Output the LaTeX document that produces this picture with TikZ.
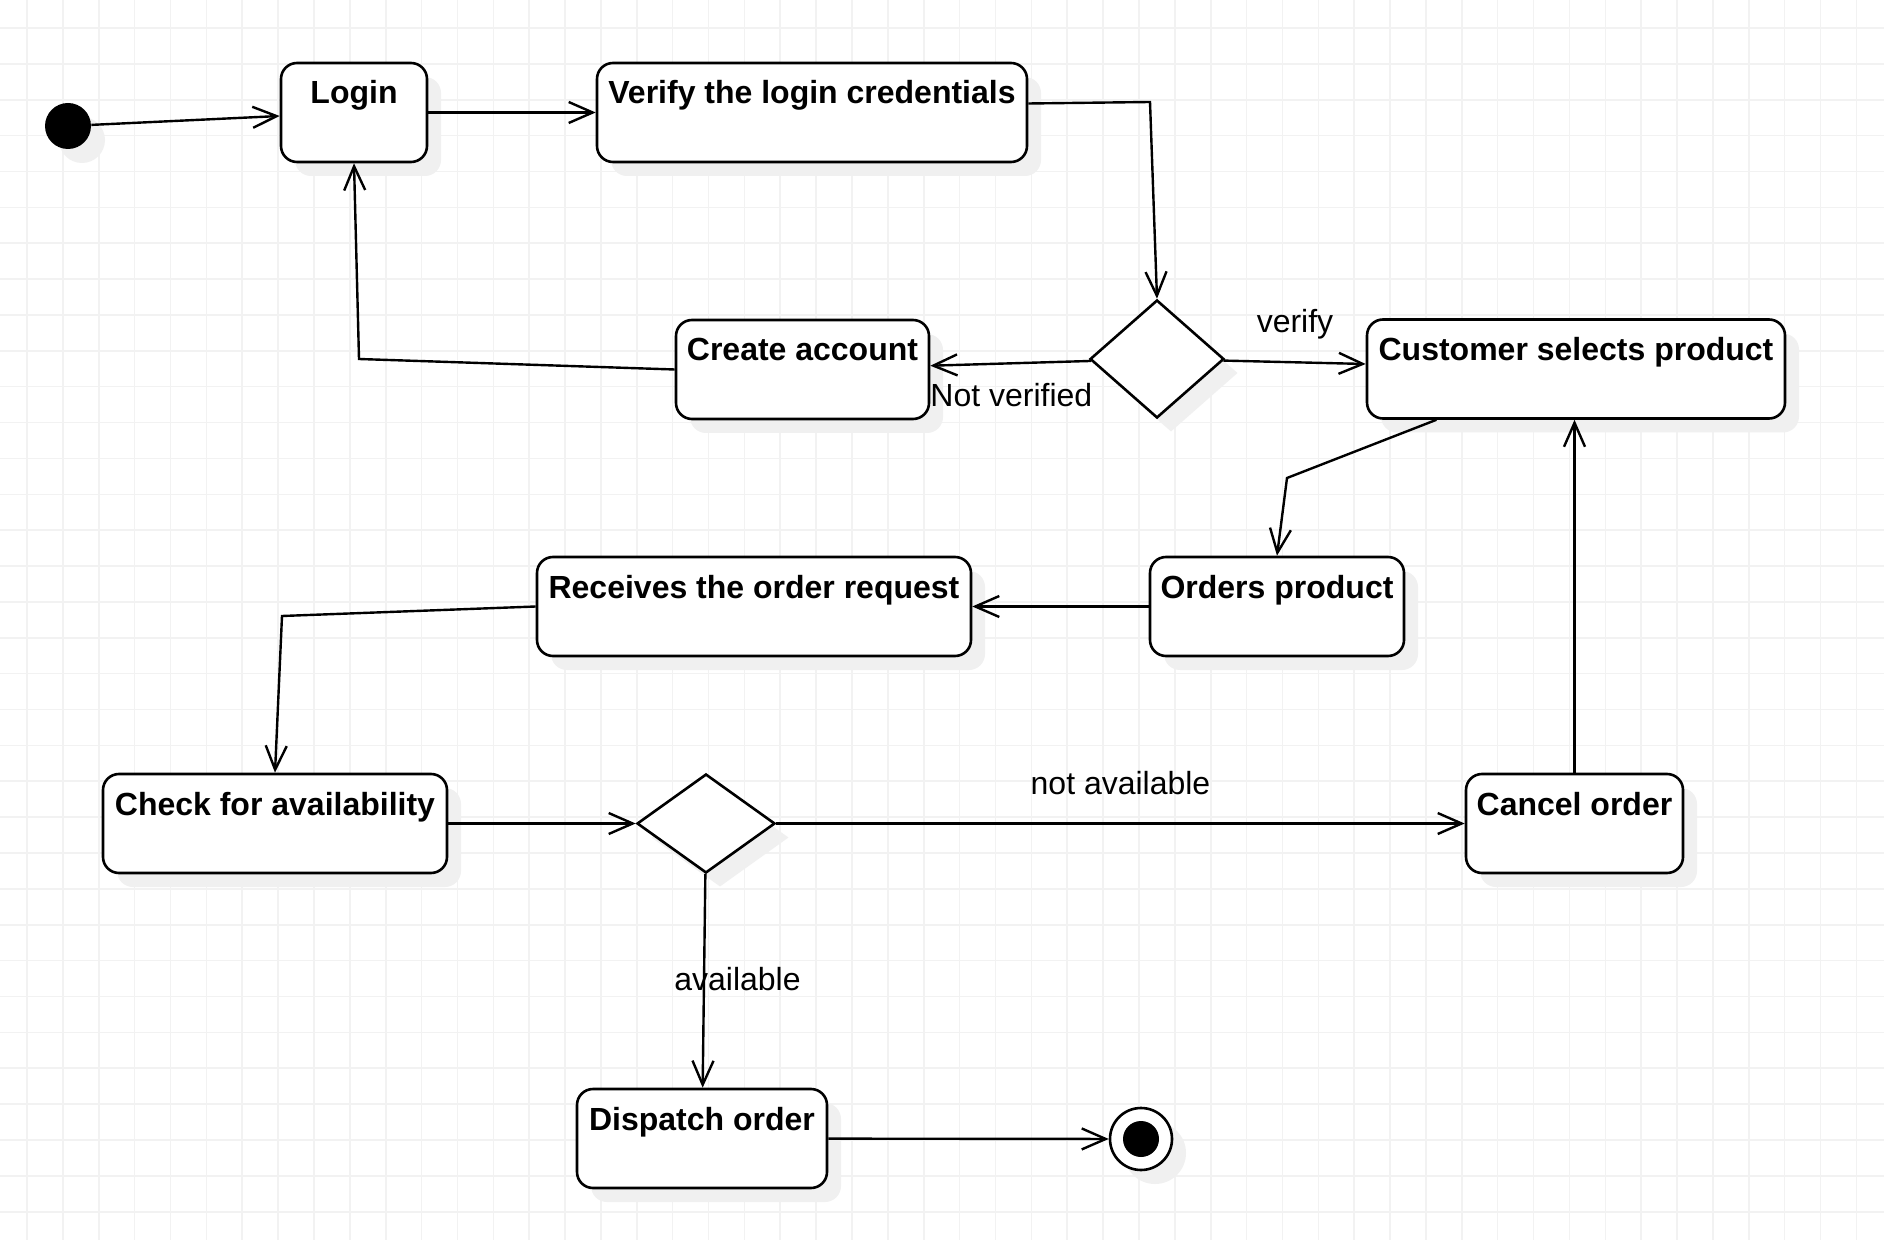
\documentclass[tikz,border=0pt]{standalone}
\usepackage{fontspec}
\setmainfont{Liberation Sans}
\usetikzlibrary{shapes.geometric,arrows.meta,shadows}

\begin{document}
\begin{tikzpicture}[x=0.5pt,y=-0.5pt,
	gridline/.style={draw=black!5,line width=0.8pt},
	dshadow/.style={drop shadow={shadow xshift=7pt,shadow yshift=-7pt,fill=black!6,opacity=1}},
	state/.style={draw,line width=1.3pt,rounded corners=8pt,fill=white,dshadow,inner sep=0pt,
		text height=20.5pt,text depth=29pt,font=\fontsize{16}{19}\selectfont\bfseries},
	choice/.style={diamond,draw,line width=1.3pt,fill=white,dshadow,inner sep=0pt},
	startstate/.style={circle,fill,minimum size=23pt,inner sep=0pt,dshadow},
	endstate/.style={circle,draw,line width=1.3pt,fill=white,minimum size=31pt,inner sep=0pt,dshadow,
		path picture={\fill[black] (path picture bounding box.center) circle (9pt);}},
	flow/.style={line width=1.2pt,-{Straight Barb[length=12pt,width=10.5pt]}},
	lbl/.style={inner sep=0pt,font=\fontsize{16}{19}\selectfont}]
		\fill[white] (0,0) rectangle (1884,1240);
		\useasboundingbox (0,0) rectangle (1884,1240);
		\foreach \i in {0,...,51} \draw[gridline] (27+35.87*\i,0) -- (27+35.87*\i,1240);
		\foreach \j in {0,...,33} \draw[gridline] (0,28+35.87*\j) -- (1884,28+35.87*\j);
		
		\node[startstate] (init) at (68,126) {};
		\node[state,minimum width=73pt] (login) at (354,112.5) {Login};
		\node[state,minimum width=215pt] (verify) at (812,112.5) {Verify the login credentials};
		\node[choice,minimum width=67pt,minimum height=59pt] (d1) at (1157,359) {};
		\node[state,minimum width=126.5pt] (create) at (802.5,369.5) {Create account};
		\node[state,minimum width=209pt] (cust) at (1576,369) {Customer selects product};
		\node[state,minimum width=127pt] (orders) at (1277,606.5) {Orders product};
		\node[state,minimum width=217pt] (recv) at (754,606.5) {Receives the order request};
		\node[state,minimum width=172pt] (check) at (275,823.5) {Check for availability};
		\node[choice,minimum width=69pt,minimum height=49.5pt] (d2) at (706,823.5) {};
		\node[state,minimum width=108.5pt] (cancel) at (1574.5,823.5) {Cancel order};
		\node[state,minimum width=125pt] (dispatch) at (702,1138.5) {Dispatch order};
		\node[endstate] (final) at (1141,1139) {};
		
		\coordinate (b1) at (1150,102);
		\coordinate (b2) at (359,359);
		\coordinate (b3) at (1287,478);
		\coordinate (b4) at (282,616);
		
		\draw[flow] (init) -- (login);
		\draw[flow] (login) -- (verify);
		\draw[flow] ([yshift=4.5pt]verify.east) -- (b1) -- (d1.north);
		\draw[flow] (d1) -- (create);
		\draw[flow] (d1) -- (cust);
		\draw[flow] (create.west) -- (b2) -- (login.south);
		\draw[flow] (cust.200) -- (b3) -- (orders.north);
		\draw[flow] (orders) -- (recv);
		\draw[flow] (recv.west) -- (b4) -- (check.north);
		\draw[flow] (check) -- (d2);
		\draw[flow] (d2) -- (cancel);
		\draw[flow] (cancel.north) -- (cancel.north |- cust.south);
		\draw[flow] (d2) -- (dispatch);
		\draw[flow] (dispatch) -- (final);
		
		\node[lbl,anchor=base] (lverify) at (1295,333) {verify};
		\node[lbl,anchor=base west] (lnotver) at (930,407) {Not verified};
		\node[lbl,anchor=base] (lnotav) at (1120.5,794) {not available};
		\node[lbl,anchor=base] (lav) at (737.5,990) {available};
\end{tikzpicture}
\end{document}
